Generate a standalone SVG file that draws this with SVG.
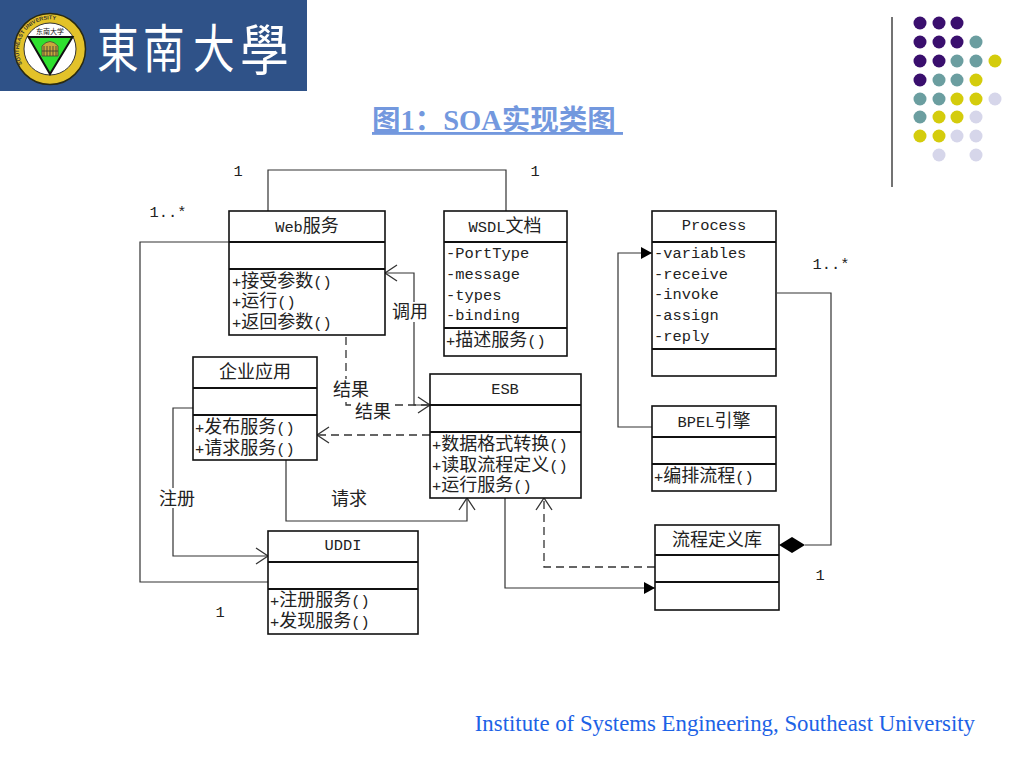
<svg xmlns="http://www.w3.org/2000/svg" width="1024" height="768" viewBox="0 0 1024 768">
<style>
.box{fill:#fff;stroke:#111;stroke-width:1.6}
.div{stroke:#111;stroke-width:1.8;fill:none}
.c{fill:none;stroke:#333;stroke-width:1.2}
.d{stroke-dasharray:8 5;stroke-width:1.3}
text{font-family:"Liberation Mono","Noto Sans CJK SC",monospace;font-size:18px;fill:#222}
.m{text-anchor:middle}
.l{font-family:"Liberation Mono",monospace;font-size:15.4px}
.bg{fill:#fff;stroke:none}
.lg{font-family:"Noto Sans CJK TC",sans-serif;font-size:52px;fill:#fff}
.p{fill:#3a0f6e}.t{fill:#6b9ea0}.y{fill:#d4cc0c}.v{fill:#d6d6ea}
</style>
<defs>
<marker id="open" markerUnits="userSpaceOnUse" markerWidth="16" markerHeight="20" refX="13" refY="9" orient="auto-start-reverse" viewBox="0 0 16 18"><path d="M1,1 L13,9 L1,17" fill="none" stroke="#333" stroke-width="1.3"/></marker>
<marker id="fill" markerUnits="userSpaceOnUse" markerWidth="12" markerHeight="14" refX="11" refY="6" orient="auto" viewBox="0 0 12 12"><path d="M0,0 L11,6 L0,12 Z" fill="#000"/></marker>
<path id="sealArc" d="M26,70 A31,31 0 1 1 74,70"/>
</defs>
<rect width="1024" height="768" fill="#fff"/>
<g id="logo">
<rect x="0" y="0" width="307" height="91" fill="#2f5288"/>
<circle cx="50" cy="49" r="35.5" fill="#e3c22a" stroke="#2a2a10" stroke-width="1.5"/>
<circle cx="50" cy="49" r="26" fill="#fff" stroke="#333" stroke-width="1"/>
<text style="font-size:5.5px;font-family:'Liberation Sans',sans-serif;font-weight:bold;fill:#333"><textPath href="#sealArc" startOffset="5%">SOUTHEAST UNIVERSITY</textPath></text>
<text x="50" y="34" class="m" style="font-size:7px;font-family:'Noto Sans CJK SC',sans-serif">东南大学</text>
<path d="M28.5,37 H72.5 L50,74 Z" fill="#2ee02e" stroke="#111" stroke-width="2"/>
<path d="M42,56 V46 Q50,37 58,46 V56 Z" fill="#c8a83c" stroke="#443" stroke-width="0.8"/>
<path d="M44,46 V56 M47,46 V56 M50,46 V56 M53,46 V56 M56,46 V56 M42,51 H58" stroke="#443" stroke-width="0.9"/>
<text class="lg" transform="translate(97,68) scale(.8,1)">東</text>
<text class="lg" transform="translate(143,68) scale(.8,1)">南</text>
<text class="lg" transform="translate(193,68) scale(.8,1)">大</text>
<text class="lg" transform="translate(240,70) scale(.94,1.06)">學</text>
</g>
<g id="decor">
<path d="M892,17 V187" stroke="#444" stroke-width="1.5"/>
<g class="p"><circle cx="920" cy="23" r="6.5"/><circle cx="939" cy="23" r="6.5"/><circle cx="957" cy="23" r="6.5"/><circle cx="920" cy="42" r="6.5"/><circle cx="939" cy="42" r="6.5"/><circle cx="957" cy="42" r="6.5"/><circle cx="920" cy="61" r="6.5"/><circle cx="939" cy="61" r="6.5"/><circle cx="920" cy="80" r="6.5"/></g>
<g class="t"><circle cx="976" cy="42" r="6.5"/><circle cx="957" cy="61" r="6.5"/><circle cx="976" cy="61" r="6.5"/><circle cx="939" cy="80" r="6.5"/><circle cx="957" cy="80" r="6.5"/><circle cx="920" cy="99" r="6.5"/><circle cx="939" cy="99" r="6.5"/><circle cx="920" cy="117" r="6.5"/></g>
<g class="y"><circle cx="995" cy="61" r="6.5"/><circle cx="976" cy="80" r="6.5"/><circle cx="957" cy="99" r="6.5"/><circle cx="976" cy="99" r="6.5"/><circle cx="939" cy="117" r="6.5"/><circle cx="957" cy="117" r="6.5"/><circle cx="920" cy="136" r="6.5"/><circle cx="939" cy="136" r="6.5"/></g>
<g class="v"><circle cx="995" cy="99" r="6.5"/><circle cx="976" cy="117" r="6.5"/><circle cx="957" cy="136" r="6.5"/><circle cx="976" cy="136" r="6.5"/><circle cx="939" cy="155" r="6.5"/><circle cx="976" cy="155" r="6.5"/></g>
</g>
<text id="title" x="372" y="130" style="font-family:'Liberation Serif','Noto Sans CJK SC',serif;font-size:28.5px;font-weight:bold;fill:#7398de;text-decoration:underline;white-space:pre">图1：SOA实现类图 </text>
<text id="footer" x="975" y="731" text-anchor="end" style="font-family:'Liberation Serif',serif;font-size:22.8px;fill:#1c62e6">Institute of Systems Engineering, Southeast University</text>
<g id="connectors">
<path class="c" d="M268,211 V170 H506 V211"/>
<path class="c" d="M229,242 H140 V582 H268"/>
<path class="c" d="M430,405 H414 V273 H385" marker-start="url(#open)" marker-end="url(#open)"/>
<path class="c d" d="M346,337 V405 H430"/>
<path class="c d" d="M430,435 H317" marker-end="url(#open)"/>
<path class="c" d="M193,408 H173 V556 H268" marker-end="url(#open)"/>
<path class="c" d="M286,460 V521 H467 V498" marker-end="url(#open)"/>
<path class="c" d="M505,498 V588 H655" marker-end="url(#fill)"/>
<path class="c d" d="M655,567 H544 V498" marker-end="url(#open)"/>
<path class="c" d="M652,427 H618 V253 H652" marker-end="url(#fill)"/>
<path class="c" d="M777,293 H831 V545 H805"/>
<path d="M779,545 L792,537 L805,545 L792,553 Z" fill="#000"/>
</g>
<g id="web"><rect class="box" x="229" y="211" width="156" height="124"/><path class="div" d="M229,242 H385 M229,269 H385"/>
<text x="307" y="232" class="m"><tspan class="l">Web</tspan>服务</text>
<text x="232" y="287"><tspan class="l">+</tspan>接受参数<tspan class="l">()</tspan></text>
<text x="232" y="307"><tspan class="l">+</tspan>运行<tspan class="l">()</tspan></text>
<text x="232" y="328"><tspan class="l">+</tspan>返回参数<tspan class="l">()</tspan></text></g>
<g id="wsdl"><rect class="box" x="444" y="211" width="123" height="145"/><path class="div" d="M444,242 H567 M444,328 H567"/>
<text x="505" y="232" class="m"><tspan class="l">WSDL</tspan>文档</text>
<text x="446" y="258" class="l">-PortType</text><text x="446" y="279" class="l">-message</text><text x="446" y="300" class="l">-types</text><text x="446" y="320" class="l">-binding</text>
<text x="446" y="346"><tspan class="l">+</tspan>描述服务<tspan class="l">()</tspan></text></g>
<g id="process"><rect class="box" x="652" y="211" width="124" height="165"/><path class="div" d="M652,242 H776 M652,349 H776"/>
<text x="714" y="230" class="m l">Process</text>
<text x="654" y="258" class="l">-variables</text><text x="654" y="279" class="l">-receive</text><text x="654" y="299" class="l">-invoke</text><text x="654" y="320" class="l">-assign</text><text x="654" y="341" class="l">-reply</text></g>
<g id="app"><rect class="box" x="193" y="357" width="124" height="103"/><path class="div" d="M193,388 H317 M193,415 H317"/>
<text x="255" y="378" class="m">企业应用</text>
<text x="195" y="433"><tspan class="l">+</tspan>发布服务<tspan class="l">()</tspan></text>
<text x="195" y="454"><tspan class="l">+</tspan>请求服务<tspan class="l">()</tspan></text></g>
<g id="esb"><rect class="box" x="430" y="374" width="151" height="124"/><path class="div" d="M430,405 H581 M430,432 H581"/>
<text x="505" y="394" class="m l">ESB</text>
<text x="432" y="450"><tspan class="l">+</tspan>数据格式转换<tspan class="l">()</tspan></text>
<text x="432" y="471"><tspan class="l">+</tspan>读取流程定义<tspan class="l">()</tspan></text>
<text x="432" y="491"><tspan class="l">+</tspan>运行服务<tspan class="l">()</tspan></text></g>
<g id="bpel"><rect class="box" x="652" y="406" width="124" height="85"/><path class="div" d="M652,437 H776 M652,464 H776"/>
<text x="714" y="427" class="m"><tspan class="l">BPEL</tspan>引擎</text>
<text x="654" y="482"><tspan class="l">+</tspan>编排流程<tspan class="l">()</tspan></text></g>
<g id="repo"><rect class="box" x="655" y="525" width="124" height="85"/><path class="div" d="M655,555 H779 M655,582 H779"/>
<text x="717" y="546" class="m">流程定义库</text></g>
<g id="uddi"><rect class="box" x="268" y="531" width="150" height="103"/><path class="div" d="M268,562 H418 M268,589 H418"/>
<text x="343" y="550" class="m l">UDDI</text>
<text x="270" y="606"><tspan class="l">+</tspan>注册服务<tspan class="l">()</tspan></text>
<text x="270" y="627"><tspan class="l">+</tspan>发现服务<tspan class="l">()</tspan></text></g>
<g id="labels">
<text x="238" y="176" class="m l">1</text><text x="535" y="176" class="m l">1</text>
<text x="168" y="217" class="m l">1..*</text><text x="831" y="269" class="m l">1..*</text>
<text x="820" y="580" class="m l">1</text><text x="220" y="617" class="m l">1</text>
<rect class="bg" x="393" y="302" width="35" height="20"/><text x="410" y="318" class="m">调用</text>
<rect class="bg" x="333" y="379" width="36" height="20"/><text x="351" y="396" class="m">结果</text>
<rect class="bg" x="355" y="402" width="37" height="20"/><text x="373" y="418" class="m">结果</text>
<rect class="bg" x="160" y="488" width="35" height="20"/><text x="177" y="505" class="m">注册</text>
<text x="349" y="505" class="m">请求</text>
</g>
</svg>
